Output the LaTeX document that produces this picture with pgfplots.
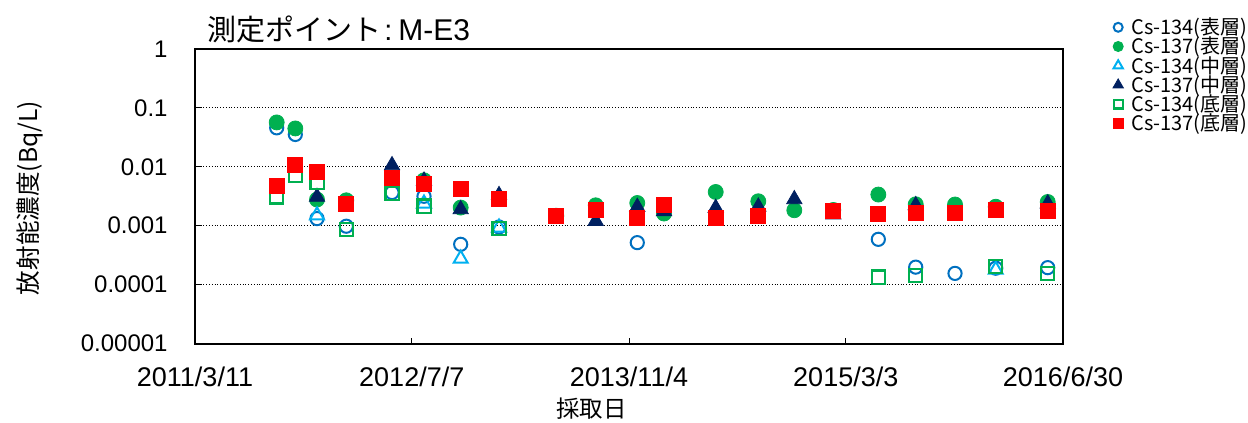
\documentclass[border=0pt]{standalone}
\usepackage{pgfplots}
\pgfplotsset{compat=1.18}
\usepackage{fontspec}
\setmainfont{Liberation Sans}
\newfontfamily\cjk{Noto Sans CJK JP}
\definecolor{cblue}{HTML}{0070C0}
\definecolor{cgreen}{HTML}{00B050}
\definecolor{clblue}{HTML}{00B0F0}
\definecolor{cnavy}{HTML}{002060}
\definecolor{cred}{HTML}{FF0000}
\begin{document}
\begin{tikzpicture}
\begin{axis}[name=ax, at={(0,0)}, anchor=south west,
  scale only axis, width=434pt, height=147.25pt,
  xmin=0, xmax=1938, ymode=log, ymin=1e-5, ymax=1,
  xtick={0,484,969,1453,1938},
  xticklabels={2011/3/11,2012/7/7,2013/11/4,2015/3/3,2016/6/30},
  ytick={1e-5,1e-4,1e-3,1e-2,1e-1,1},
  yticklabels={0.00001,0.0001,0.001,0.01,0.1,1},
  yminorticks=false, xminorticks=false,
  tick align=inside, tick pos=left, major tick length=3pt,
  tick style={black, line width=0.5pt},
  axis line style={line width=1pt},
  ymajorgrids, major grid style={black, densely dotted, line width=0.5pt},
  xticklabel style={font=\fontsize{13.5}{14}\selectfont, anchor=north, inner sep=0pt, yshift=-11.3pt},
  yticklabel style={font=\fontsize{12}{13}\selectfont, anchor=east, inner sep=0pt, xshift=-13.5pt},
  ylabel={\cjk 放射能濃度(Bq/L)},
  ylabel style={at={(axis description cs:-0.190,0.494)}, anchor=center, font=\fontsize{12.3}{13}\selectfont},
  xlabel={\cjk 採取日},
  xlabel style={at={(axis description cs:0.457,-0.222)}, anchor=center, font=\fontsize{11.7}{12}\selectfont},
  legend cell align=left,
  legend image code/.code={\draw[mark size=0.68\pgfplotmarksize] plot coordinates {(2.5pt,0pt)};},
  legend style={draw=none, fill=none, inner sep=0pt, outer sep=0pt,
    at={(axis description cs:1,1)}, anchor=north west, xshift=25pt, yshift=15.65pt,
    row sep=0pt,
    font=\cjk\fontsize{10}{11}\selectfont,
    nodes={inner sep=0pt, text height=8.5pt, text depth=1.1pt},
    /tikz/every odd column/.style={column sep=4pt}},
]
% Cs-134 surface
\addplot[only marks, mark=o, color=cblue, mark size=3.3pt, line width=1pt] coordinates {
(182.4,0.0459) (224,0.0354) (272.4,0.00132) (337.8,0.00098) (439.9,0.00366)
(511.3,0.00316) (593.2,0.000483) (678.8,0.00095) (987.5,0.000516)
(1525.7,0.000587) (1609.2,0.000198) (1696.9,0.000155) (1787.8,0.00019) (1903.9,0.000194)};
\addlegendentry{Cs-134(表層)}
% Cs-137 surface
\addplot[only marks, mark=*, color=cgreen, mark size=3.75pt] coordinates {
(182.4,0.0567) (224,0.0448) (272.4,0.00278) (337.8,0.0027) (511.3,0.0059)
(593.2,0.00203) (678.8,0.0029) (806.7,0.00148) (894.7,0.00222) (987.5,0.00243)
(1047.2,0.00161) (1162.6,0.00374) (1257.7,0.0026) (1338.1,0.00183) (1425.2,0.00185)
(1525.7,0.00338) (1609.2,0.00231) (1696.9,0.00229) (1787.8,0.0021) (1903.9,0.00253)};
\addlegendentry{Cs-137(表層)}
% Cs-134 middle
\addplot[only marks, mark=triangle, color=clblue, mark size=4pt, line width=1pt] coordinates {
(272.4,0.0015) (511.3,0.00238) (593.2,0.000276) (678.8,0.00093) (1787.8,0.000179)};
\addlegendentry{Cs-134(中層)}
% Cs-137 middle
\addplot[only marks, mark=triangle*, color=cnavy, mark size=4.4pt] coordinates {
(272.4,0.00308) (439.9,0.0106) (511.3,0.0058) (593.2,0.0019) (678.8,0.0033)
(894.7,0.0012) (987.5,0.00208) (1047.2,0.00176) (1162.6,0.002) (1257.7,0.0021)
(1338.1,0.00281) (1425.2,0.00155) (1609.2,0.00222) (1903.9,0.00238)};
\addlegendentry{Cs-137(中層)}
% Cs-134 bottom
\addplot[only marks, mark=square, color=cgreen, mark size=3.3pt, line width=1.1pt] coordinates {
(182.4,0.00308) (224,0.0072) (272.4,0.0054) (337.8,0.00086) (439.9,0.00352)
(511.3,0.00216) (678.8,0.0009) (1525.7,0.000134) (1609.2,0.000143)
(1787.8,0.000204) (1903.9,0.000153)};
\addlegendentry{Cs-134(底層)}
% Cs-137 bottom
\addplot[only marks, mark=square*, color=cred, mark size=3.75pt] coordinates {
(182.4,0.00473) (224,0.0108) (272.4,0.0081) (337.8,0.00238) (439.9,0.00648)
(511.3,0.00506) (593.2,0.00428) (678.8,0.00281) (806.7,0.00146) (894.7,0.00188)
(987.5,0.00137) (1047.2,0.00222) (1162.6,0.00135) (1257.7,0.00146) (1425.2,0.00176)
(1525.7,0.00156) (1609.2,0.00167) (1696.9,0.00167) (1787.8,0.00183) (1903.9,0.00176)};
\addlegendentry{Cs-137(底層)}
\end{axis}
\node[anchor=west, inner sep=0pt, font=\fontsize{14.5}{16}\selectfont] at ([xshift=6pt,yshift=9.75pt]ax.north west) {{\cjk 測定ポイント}\hspace{1.5pt}:\hspace{3pt}\fontsize{15}{16}\selectfont M-E3};
\pgfresetboundingbox
\path ([xshift=-97.5pt,yshift=-39.75pt]ax.south west) rectangle ([xshift=92.5pt,yshift=24.5pt]ax.north east);
\end{tikzpicture}
\end{document}
